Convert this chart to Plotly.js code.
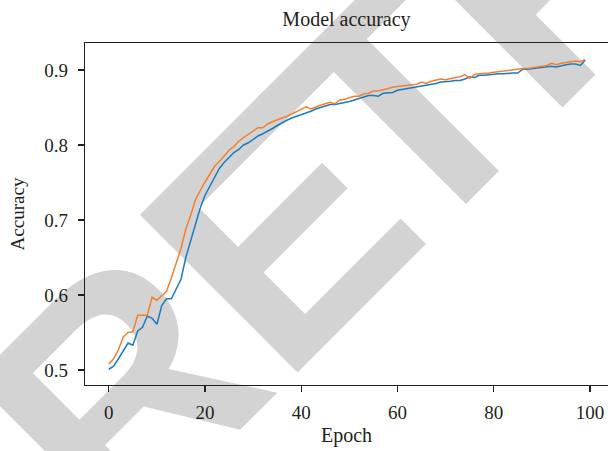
<!DOCTYPE html>
<html>
<head>
<meta charset="utf-8">
<script src="https://cdn.plot.ly/plotly-3.0.1.min.js"></script>
<style>
  html, body { margin: 0; padding: 0; background: #ffffff; }
  #wrap { position: relative; width: 608px; height: 451px; overflow: hidden; background: #ffffff; }
  #wm { position: absolute; left: 0; top: 0; }
  #chart { position: absolute; left: 0; top: 0; width: 608px; height: 451px; }
</style>
</head>
<body>
<div id="wrap">
  <svg id="wm" width="608" height="451" xmlns="http://www.w3.org/2000/svg">
    <text x="41 275.3 459.5 650" y="371" transform="rotate(-45 299 371)"
          font-family="Liberation Sans, Arial, sans-serif" font-weight="bold"
          font-size="324" fill="#d3d3d3">RETRACTED</text>
  </svg>
  <div id="chart"></div>
</div>
<script>
// Epoch index
const epochs = [0,1,2,3,4,5,6,7,8,9,10,11,12,13,14,15,16,17,18,19,
  20,21,22,23,24,25,26,27,28,29,30,31,32,33,34,35,36,37,38,39,
  40,41,42,43,44,45,46,47,48,49,50,51,52,53,54,55,56,57,58,59,
  60,61,62,63,64,65,66,67,68,69,70,71,72,73,74,75,76,77,78,79,
  80,81,82,83,84,85,86,87,88,89,90,91,92,93,94,95,96,97,98,99];

// Blue series
const accBlue = [
  0.501,0.505,0.515,0.526,0.536,0.533,0.552,0.557,0.572,0.569,
  0.561,0.586,0.595,0.595,0.607,0.621,0.650,0.672,0.694,0.716,
  0.733,0.745,0.758,0.769,0.777,0.784,0.790,0.794,0.800,0.803,
  0.808,0.812,0.815,0.818,0.822,0.826,0.830,0.833,0.836,0.838,
  0.840,0.843,0.845,0.848,0.850,0.852,0.854,0.854,0.855,0.857,
  0.858,0.860,0.862,0.865,0.866,0.866,0.865,0.869,0.870,0.870,
  0.873,0.874,0.876,0.877,0.878,0.879,0.879,0.881,0.882,0.884,
  0.884,0.885,0.886,0.886,0.888,0.891,0.890,0.893,0.893,0.894,
  0.894,0.895,0.895,0.896,0.896,0.896,0.901,0.901,0.902,0.902,
  0.903,0.904,0.905,0.904,0.906,0.907,0.908,0.908,0.906,0.913];

// Orange series
const accOrange = [
  0.508,0.515,0.527,0.544,0.550,0.551,0.573,0.573,0.573,0.597,
  0.593,0.599,0.605,0.623,0.641,0.662,0.688,0.706,0.727,0.740,
  0.751,0.761,0.772,0.778,0.785,0.793,0.798,0.805,0.810,0.814,
  0.818,0.823,0.823,0.828,0.831,0.834,0.836,0.838,0.841,0.845,
  0.847,0.851,0.848,0.851,0.853,0.855,0.857,0.855,0.860,0.861,
  0.863,0.865,0.865,0.868,0.869,0.872,0.872,0.874,0.875,0.877,
  0.878,0.879,0.880,0.880,0.881,0.884,0.882,0.885,0.887,0.888,
  0.887,0.889,0.890,0.891,0.894,0.889,0.894,0.895,0.895,0.896,
  0.897,0.898,0.899,0.900,0.901,0.901,0.902,0.902,0.903,0.904,
  0.905,0.906,0.909,0.907,0.909,0.910,0.912,0.912,0.911,0.914];

const xTicks = [0, 20, 40, 60, 80, 100];
const xTickText = ['0', '20', '40', '60', '80', '100'];
const yTicks = [0.5, 0.6, 0.7, 0.8, 0.9];
const yTickText = ['0.5', '0.6', '0.7', '0.8', '0.9'];

const FONT = 'Liberation Serif, Times New Roman, serif';
const INK = '#231f20';

const traces = [
  { x: epochs, y: accBlue, type: 'scatter', mode: 'lines',
    line: { color: '#1a7cc0', width: 1.5 }, hoverinfo: 'skip' },
  { x: epochs, y: accOrange, type: 'scatter', mode: 'lines',
    line: { color: '#f28030', width: 1.5 }, hoverinfo: 'skip' }
];

const layout = {
  width: 608, height: 451,
  margin: { l: 85, r: 0, t: 43, b: 66, pad: 0 },
  paper_bgcolor: 'rgba(0,0,0,0)',
  plot_bgcolor: 'rgba(0,0,0,0)',
  showlegend: false,
  font: { family: FONT, color: INK, size: 19 },
  title: { text: 'Model accuracy', x: 0.5, xref: 'paper', xanchor: 'center',
           y: 0.958, yref: 'container', yanchor: 'middle',
           font: { family: FONT, size: 20, color: INK } },
  xaxis: {
    range: [-4.95, 103.74], tickvals: xTicks, ticktext: xTickText,
    showgrid: false, zeroline: false, showline: true, mirror: true,
    linecolor: INK, linewidth: 1.2, ticks: 'outside', ticklen: 6, tickwidth: 1.2,
    tickcolor: INK, tickfont: { family: FONT, size: 19, color: INK },
    ticklabelstandoff: 4,
    title: { text: 'Epoch', font: { family: FONT, size: 20, color: INK }, standoff: 6 }
  },
  yaxis: {
    range: [0.48, 0.936], tickvals: yTicks, ticktext: yTickText,
    showgrid: false, zeroline: false, showline: true, mirror: false,
    linecolor: INK, linewidth: 1.2, ticks: 'outside', ticklen: 6, tickwidth: 1.2,
    tickcolor: INK, tickfont: { family: FONT, size: 19, color: INK },
    ticklabelstandoff: 6,
    title: { text: 'Accuracy', font: { family: FONT, size: 19, color: INK }, standoff: 14 }
  }
};

Plotly.newPlot('chart', traces, layout, { staticPlot: true, displayModeBar: false });
</script>
</body>
</html>
